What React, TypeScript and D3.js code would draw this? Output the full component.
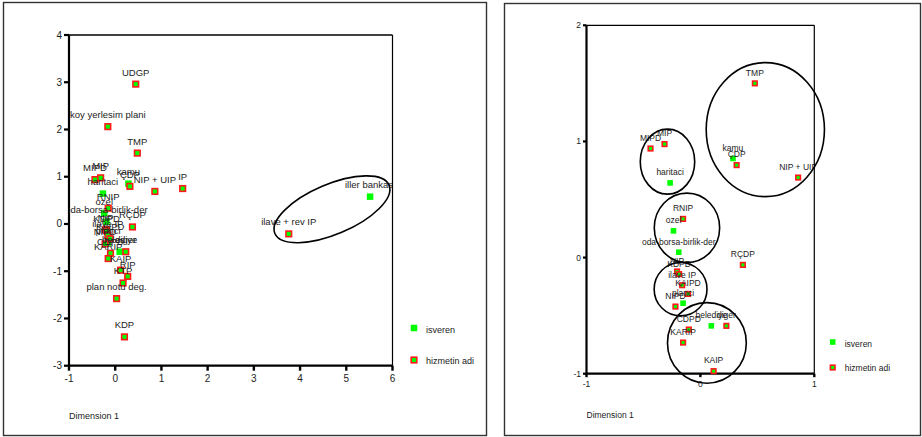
import React from "react";
import * as d3 from "d3";

// hizmetin adi (service type) points
const hizmetLabels = [
  "UDGP", "koy yerlesim plani", "TMP", "MIPD", "MIP", "ÇDP", "NIP + UIP", "IP",
  "RNIP", "RÇDP", "NIP", "KDPD", "ilave IP", "KAIPD", "NIPD", "CDPD", "KARIP",
  "diger", "KAIP", "RIP", "KTP", "plan notu deg.", "KDP", "ilave + rev IP",
];
const hizmetX = [
  0.444, -0.16, 0.478, -0.438, -0.315, 0.318, 0.858, 1.46,
  -0.152, 0.373, -0.205, -0.187, -0.16, -0.109, -0.219, -0.102, -0.152,
  0.228, 0.116, 0.27, 0.17, 0.03, 0.2, 3.755,
];
const hizmetY = [
  2.96, 2.06, 1.5, 0.939, 0.977, 0.796, 0.689, 0.75,
  0.333, -0.063, -0.12, -0.143, -0.238, -0.313, -0.422, -0.62, -0.732,
  -0.588, -0.978, -1.11, -1.25, -1.58, -2.39, -0.21,
];

// isveren (employer) points
const isverenLabels = ["kamu", "haritaci", "ozel", "oda-borsa-birlik-der", "planci", "belediye", "iller bankasi"];
const isverenX = [0.286, -0.266, -0.236, -0.19, -0.152, 0.096, 5.515];
const isverenY = [0.853, 0.643, 0.23, 0.046, -0.393, -0.588, 0.578];

const leftXTicks = [-1, 0, 1, 2, 3, 4, 5, 6];
const leftYTicks = [-3, -2, -1, 0, 1, 2, 3, 4];
const rightXTicks = [-1, 0, 1];
const rightYTicks = [-1, 0, 1, 2];
const legendLabels = ["isveren", "hizmetin adi"];
const axisTitle = "Dimension 1";

// group ellipses on the right panel (data units: cx, cy, rx, ry)
const rightGroupCx = [0.57, -0.289, -0.118, -0.174, 0.057];
const rightGroupCy = [1.102, 0.826, 0.256, -0.272, -0.735];
const rightGroupRx = [0.519, 0.239, 0.287, 0.232, 0.346];
const rightGroupRy = [0.577, 0.28, 0.299, 0.23, 0.347];

const FONT = "Arial, 'Liberation Sans', Helvetica, sans-serif";
const GREEN = "#00ff00";
const RED = "#ff1a1a";

type PanelProps = {
  id: string;
  xDomain: [number, number];
  yDomain: [number, number];
  x0: number; x1: number; y0: number; y1: number;
  xTicks: number[]; yTicks: number[];
  tickFont: number; labelFont: number;
  hSize: number; iSize: number;
  legendX: number; legendY: number; legendGap: number; legendFont: number;
  titleY: number; titleFont: number;
  tickLen: number;
  children?: (x: d3.ScaleLinear<number, number>, y: d3.ScaleLinear<number, number>) => React.ReactNode;
};

function Panel(p: PanelProps) {
  const x = d3.scaleLinear().domain(p.xDomain).range([p.x0, p.x1]);
  const y = d3.scaleLinear().domain(p.yDomain).range([p.y1, p.y0]);
  const inside = (vx: number, vy: number) =>
    vx >= p.xDomain[0] && vx <= p.xDomain[1] && vy >= p.yDomain[0] && vy <= p.yDomain[1];
  const hIdx = hizmetX.map((_, i) => i).filter((i) => inside(hizmetX[i], hizmetY[i]));
  const iIdx = isverenX.map((_, i) => i).filter((i) => inside(isverenX[i], isverenY[i]));
  const off = p.labelFont * 0.9;
  return (
    <g fontFamily={FONT}>
      <defs>
        <clipPath id={`clip-${p.id}`}>
          <rect x={p.x0} y={p.y0} width={p.x1 - p.x0} height={p.y1 - p.y0} />
        </clipPath>
      </defs>
      {/* frame */}
      <line x1={p.x0} x2={p.x1} y1={p.y0} y2={p.y0} stroke="#000" strokeWidth={1.3} />
      <line x1={p.x1} x2={p.x1} y1={p.y0} y2={p.y1} stroke="#000" strokeWidth={1.2} />
      <line x1={p.x0} x2={p.x0} y1={p.y0} y2={p.y1} stroke="#000" strokeWidth={2.2} />
      <line x1={p.x0} x2={p.x1} y1={p.y1} y2={p.y1} stroke="#000" strokeWidth={2.2} />
      {/* y ticks */}
      {p.yTicks.map((t) => (
        <g key={`yt${t}`}>
          <line x1={p.x0 - p.tickLen} x2={p.x0} y1={y(t)} y2={y(t)} stroke="#000" strokeWidth={2.2} />
          <text x={p.x0 - p.tickLen - 2} y={y(t)} dy="0.35em" textAnchor="end" fontSize={p.tickFont} fill="#222">
            {t}
          </text>
        </g>
      ))}
      {/* x ticks */}
      {p.xTicks.map((t) => (
        <g key={`xt${t}`}>
          <line x1={x(t)} x2={x(t)} y1={p.y1} y2={p.y1 + p.tickLen} stroke="#000" strokeWidth={2.4} />
          <text x={x(t)} y={p.y1 + p.tickLen + p.tickFont + 1} textAnchor="middle" fontSize={p.tickFont} fill="#222">
            {t}
          </text>
        </g>
      ))}
      <text x={p.x0} y={p.titleY} fontSize={p.titleFont} fill="#222">{axisTitle}</text>
      {/* markers */}
      {iIdx.map((i) => (
        <rect key={`im${i}`} x={x(isverenX[i]) - p.iSize / 2} y={y(isverenY[i]) - p.iSize / 2}
          width={p.iSize} height={p.iSize} fill={GREEN} />
      ))}
      {hIdx.map((i) => (
        <rect key={`hm${i}`} x={x(hizmetX[i]) - p.hSize / 2} y={y(hizmetY[i]) - p.hSize / 2}
          width={p.hSize} height={p.hSize} fill={GREEN} stroke={RED} strokeWidth={1.6} />
      ))}
      {/* labels */}
      <g clipPath={`url(#clip-${p.id})`} fontSize={p.labelFont} fill="#222" textAnchor="middle">
        {iIdx.map((i) => (
          <text key={`il${i}`} x={x(isverenX[i])} y={y(isverenY[i]) - off}>{isverenLabels[i]}</text>
        ))}
        {hIdx.map((i) => (
          <text key={`hl${i}`} x={x(hizmetX[i])} y={y(hizmetY[i]) - off}>{hizmetLabels[i]}</text>
        ))}
      </g>
      {/* legend */}
      <rect x={p.legendX - p.iSize / 2} y={p.legendY - p.iSize / 2} width={p.iSize} height={p.iSize} fill={GREEN} />
      <text x={p.legendX + 12} y={p.legendY + 2} dy="0.35em" fontSize={p.legendFont} fill="#222">{legendLabels[0]}</text>
      <rect x={p.legendX - p.hSize / 2} y={p.legendY + p.legendGap - p.hSize / 2} width={p.hSize} height={p.hSize}
        fill={GREEN} stroke={RED} strokeWidth={1.6} />
      <text x={p.legendX + 12} y={p.legendY + p.legendGap + 1} dy="0.35em" fontSize={p.legendFont} fill="#222">{legendLabels[1]}</text>
      {p.children ? p.children(x, y) : null}
    </g>
  );
}

export default function App() {
  return (
    <div style={{ position: "absolute", left: 0, top: 0 }}>
      <svg width={922} height={437} style={{ display: "block", background: "#fff" }}>
        <rect x={3.5} y={2.5} width={483} height={433} fill="none" stroke="#333" strokeWidth={1.4} />
        <rect x={504.5} y={3.5} width={416} height={432} fill="none" stroke="#333" strokeWidth={1.4} />
        <Panel
          id="left"
          xDomain={[-1, 6]} yDomain={[-3, 4]}
          x0={69} x1={392.5} y0={35} y1={365.7}
          xTicks={leftXTicks} yTicks={leftYTicks}
          tickFont={10} labelFont={9.5}
          hSize={5.6} iSize={6.5}
          legendX={414} legendY={328} legendGap={32} legendFont={9}
          titleY={419} titleFont={9}
          tickLen={5}
        >
          {(x, y) => (
            <ellipse cx={x(4.69)} cy={y(0.31)} rx={62} ry={25}
              transform={`rotate(-23 ${x(4.69)} ${y(0.31)})`} fill="none" stroke="#000" strokeWidth={1.6} />
          )}
        </Panel>
        <Panel
          id="right"
          xDomain={[-1, 1]} yDomain={[-1, 2]}
          x0={586.5} x1={814.3} y0={25.3} y1={373.7}
          xTicks={rightXTicks} yTicks={rightYTicks}
          tickFont={8.5} labelFont={8.5}
          hSize={4.6} iSize={5.6}
          legendX={832.7} legendY={342} legendGap={25.5} legendFont={8.5}
          titleY={418} titleFont={8.5}
          tickLen={3.5}
        >
          {(x, y) => (
            <g fill="none" stroke="#000" strokeWidth={1.6}>
              {rightGroupCx.map((cx, i) => (
                <ellipse key={`e${i}`} cx={x(cx)} cy={y(rightGroupCy[i])}
                  rx={x(rightGroupRx[i]) - x(0)} ry={y(0) - y(rightGroupRy[i])} />
              ))}
            </g>
          )}
        </Panel>
      </svg>
    </div>
  );
}
